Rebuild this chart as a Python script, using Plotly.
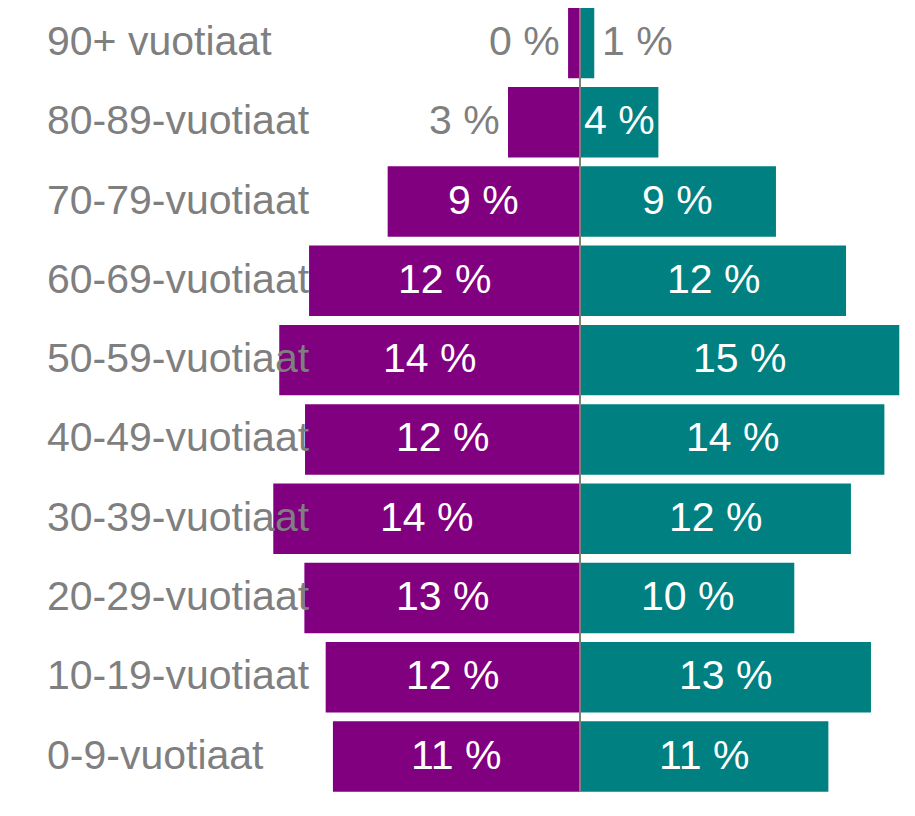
import plotly.graph_objects as go

categories = ["90+ vuotiaat", "80-89-vuotiaat", "70-79-vuotiaat", "60-69-vuotiaat",
              "50-59-vuotiaat", "40-49-vuotiaat", "30-39-vuotiaat", "20-29-vuotiaat",
              "10-19-vuotiaat", "0-9-vuotiaat"]
left_values = [0.56, 3.38, 9.03, 12.72, 14.12, 12.91, 14.40, 12.94, 11.94, 11.60]
right_values = [0.67, 3.68, 9.20, 12.49, 14.99, 14.29, 12.72, 10.06, 13.66, 11.66]
left_labels = ["0 %", "3 %", "9 %", "12 %", "14 %", "12 %", "14 %", "13 %", "12 %", "11 %"]
right_labels = ["1 %", "4 %", "9 %", "12 %", "15 %", "14 %", "12 %", "10 %", "13 %", "11 %"]

PURPLE = "#800080"
TEAL = "#008080"
GRAY = "#7f7f7f"
FONT = "Liberation Sans, Arial, sans-serif"
FS = 41

# page body has an 8px default margin; figure is sized to fill the rest
W, H = 907, 808
px_per_unit = 21.3
zero_px = 572
row_px = 79.28
first_center_px = 35
B = 20
TEXT_YSHIFT = 2
OUT_GAP = 6

# approximate Arial advance widths (em) for label fitting
CHAR_W = {d: 0.556 for d in "0123456789"}
CHAR_W.update({" ": 0.278, "%": 0.889})


def text_px(s):
    return sum(CHAR_W.get(ch, 0.556) for ch in s) * FS


fig = go.Figure()
common = dict(orientation="h", showlegend=False, hoverinfo="skip", cliponaxis=False)
fig.add_trace(go.Bar(y=categories, x=[-v for v in left_values],
                     marker=dict(color=PURPLE, line=dict(width=0)), **common))
fig.add_trace(go.Bar(y=categories, x=right_values,
                     marker=dict(color=TEAL, line=dict(width=0)), **common))

bargap = 0.111
half = (1 - bargap) / 2
fig.add_shape(type="line", xref="x", yref="y", x0=0, x1=0,
              y0=0 - half, y1=len(categories) - 1 + half,
              line=dict(color=GRAY, width=2), layer="above")

# category labels
for c in categories:
    fig.add_annotation(x=37 / W, xref="paper", y=c, yref="y", text=c,
                       showarrow=False, xanchor="left", yanchor="middle",
                       yshift=TEXT_YSHIFT,
                       font=dict(color=GRAY, size=FS, family=FONT))

# value labels
for side, values, labels in ((-1, left_values, left_labels), (1, right_values, right_labels)):
    for c, v, lab in zip(categories, values, labels):
        fits = v * px_per_unit >= text_px(lab) + 6
        if fits:
            fig.add_annotation(x=side * v / 2, xref="x", y=c, yref="y", text=lab,
                               showarrow=False, xanchor="center", yanchor="middle",
                               yshift=TEXT_YSHIFT,
                               font=dict(color="white", size=FS, family=FONT))
        else:
            fig.add_annotation(x=side * v, xref="x", y=c, yref="y", text=lab,
                               showarrow=False,
                               xanchor="left" if side > 0 else "right",
                               yanchor="middle", xshift=side * OUT_GAP,
                               yshift=TEXT_YSHIFT,
                               font=dict(color=GRAY, size=FS, family=FONT))

y_top = -first_center_px / row_px
y_bottom = y_top + (H - B) / row_px

fig.update_layout(
    width=W, height=H,
    margin=dict(l=0, r=0, t=0, b=B, pad=0),
    paper_bgcolor="white", plot_bgcolor="white",
    barmode="relative", bargap=bargap,
    xaxis=dict(range=[-zero_px / px_per_unit, (W - zero_px) / px_per_unit],
               visible=False, showgrid=False, zeroline=False, fixedrange=True),
    yaxis=dict(categoryorder="array", categoryarray=categories,
               range=[y_bottom, y_top],
               visible=False, showgrid=False, zeroline=False, fixedrange=True),
)

fig.write_html("out.html")
